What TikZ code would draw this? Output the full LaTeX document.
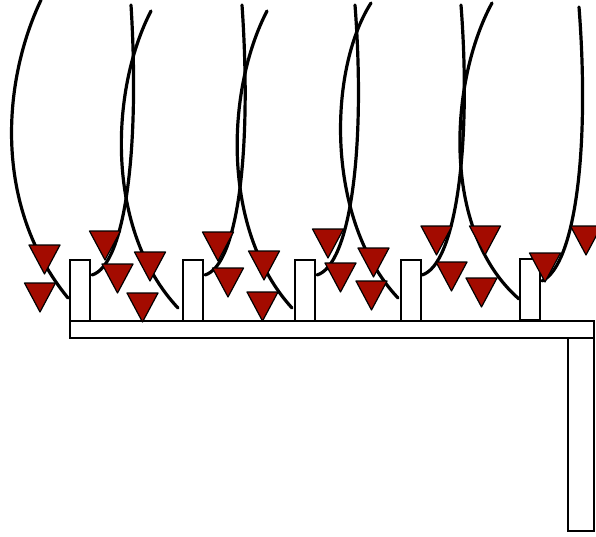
\documentclass[tikz,border=0pt]{standalone}
\begin{document}
\definecolor{flagred}{RGB}{163,11,0}
\begin{tikzpicture}[x=1pt,y=-1pt,
  strand/.style={line width=3.2pt,line cap=round},
  frame/.style={draw,fill=white,line width=2pt},
  flag/.pic={\draw[fill=flagred,line width=1.2pt,line join=round]
    (-15.5,0) -- (15.5,0) -- (0,29) -- cycle;}]
\useasboundingbox (0,0) rectangle (596,536);
\begin{scope}
\clip (0,0) rectangle (596,536);

% falling strands
\draw[strand] (41,0) .. controls (3,80) and (-8,205) .. (68,298);
\draw[strand] (131,5) .. controls (140,150) and (125,265) .. (92,275);
\draw[strand] (151,11) .. controls (110,90) and (105,230) .. (178,308);
\draw[strand] (242,5) .. controls (252,150) and (238,265) .. (205,275);
\draw[strand] (267,11) .. controls (226,90) and (221,230) .. (292,308);
\draw[strand] (355,5) .. controls (366,150) and (350,265) .. (317,275);
\draw[strand] (371,3) .. controls (328,70) and (325,220) .. (398,298);
\draw[strand] (461,5) .. controls (472,150) and (455,265) .. (422,275);
\draw[strand] (492,3) .. controls (450,80) and (440,230) .. (519,299);
\draw[strand] (579,7) .. controls (590,150) and (575,265) .. (542,281);

% shelf with posts and leg
\draw[frame] (70,321) rectangle (594,338);
\draw[frame] (568,338) rectangle (594,531);
\draw[frame] (70,260) rectangle (90,321);
\draw[frame] (183,260) rectangle (203,321);
\draw[frame] (295,260) rectangle (315,321);
\draw[frame] (401,260) rectangle (421,321);
\draw[frame] (520,259) rectangle (540,320);

% red flags
\foreach \x/\y in {44.5/245, 40/283, 105/231, 117.5/264, 150/252, 142.5/293,
                   218/232, 228/268, 264/251, 262.5/292,
                   328/229, 340.5/263, 373.5/248, 371.5/281,
                   436.5/226, 485/226, 451.5/262, 481.5/278,
                   545/253, 586/226}
  \pic at (\x,\y) {flag};
\end{scope}
\end{tikzpicture}
\end{document}
